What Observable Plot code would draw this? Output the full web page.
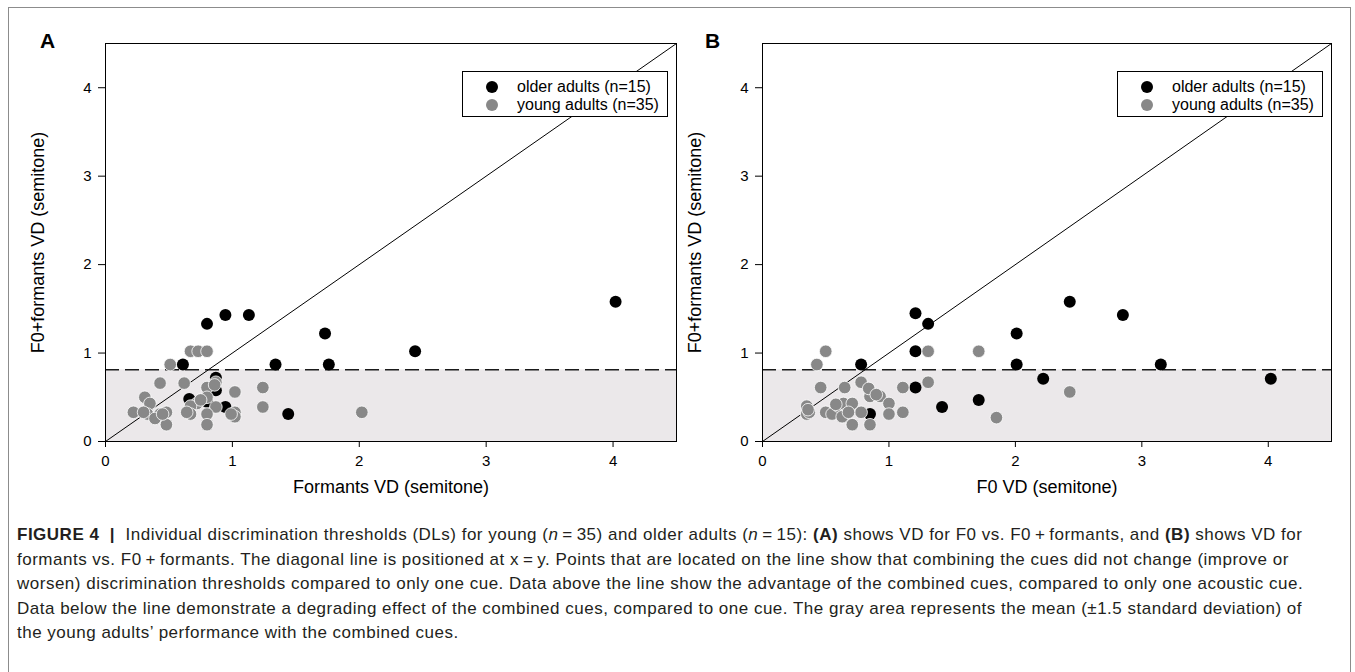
<!DOCTYPE html>
<html><head><meta charset="utf-8">
<script src="https://cdn.jsdelivr.net/npm/d3@7"></script>
<script src="https://cdn.jsdelivr.net/npm/@observablehq/plot@0.6"></script>
<style>
body{margin:0;background:#fff;font-family:"Liberation Sans",Arial,sans-serif;width:1355px;height:672px;overflow:hidden;position:relative;}
#frame{position:absolute;left:8px;top:7px;width:1343px;height:700px;border:1px solid #8c8c8c;box-sizing:border-box;z-index:10;background:transparent;}
.panel{position:absolute;top:0;}
.panel svg{background:transparent !important;}
.letter{position:absolute;font-weight:bold;font-size:21px;line-height:1;}
.legend{position:absolute;width:206px;height:46px;border:1px solid #000;background:#fff;box-sizing:border-box;font-size:16px;z-index:5;}
.legend .row{position:absolute;left:0;height:18px;line-height:18px;white-space:nowrap;}
.legend .sw{position:absolute;left:23px;top:3px;width:12px;height:12px;border-radius:50%;}
.legend .lb{position:absolute;left:54px;top:0;}
#caption{position:absolute;left:17px;top:523px;font-size:17px;letter-spacing:0.5px;line-height:24.5px;color:#231f20;white-space:nowrap;}
</style>
</head><body>
<div id="panelA" class="panel" style="left:0px"></div>
<div id="panelB" class="panel" style="left:657px"></div>
<div class="letter" style="left:40px;top:30px">A</div>
<div class="letter" style="left:705px;top:30px">B</div>
<div id="legA" class="legend" style="left:462px;top:71px"></div>
<div id="legB" class="legend" style="left:1117px;top:71px"></div>
<div id="caption"></div>
<div id="frame"></div>
<script>
// ---- data ----
const axisDomain = [0, 4.5];
const xTicks = [0, 1, 2, 3, 4];
const yTicks = [0, 1, 2, 3, 4];
const threshold = 0.81;
const groupLabels = ["older adults (n=15)", "young adults (n=35)"];
const groupColors = ["#000000", "#888888"];
const xLabelA = "Formants VD (semitone)";
const xLabelB = "F0 VD (semitone)";
const yLabel = "F0+formants VD (semitone)";

// Panel A: Formants VD (x) vs F0+formants VD (y)
const aOlderX = [0.80, 0.945, 1.13, 0.61, 1.34, 0.87, 0.87, 0.66, 0.945, 1.44, 1.73, 1.76, 2.44, 4.02, 0.80];
const aOlderY = [1.33, 1.43, 1.43, 0.87, 0.87, 0.72, 0.58, 0.48, 0.39, 0.31, 1.22, 0.87, 1.02, 1.58, 0.45];
const aYoungX = [0.67, 0.73, 0.80, 0.51, 0.43, 0.62, 0.80, 0.87, 1.02, 1.24, 0.31, 0.35, 0.80, 0.72, 0.67, 0.87, 1.24, 0.22, 0.33, 0.43, 0.48, 0.67, 0.80, 1.02, 1.02, 0.39, 0.48, 0.80, 2.02, 0.86, 0.75, 0.30, 0.45, 0.99, 0.64];
const aYoungY = [1.02, 1.02, 1.02, 0.87, 0.66, 0.66, 0.61, 0.67, 0.56, 0.61, 0.50, 0.43, 0.50, 0.43, 0.40, 0.39, 0.39, 0.33, 0.31, 0.31, 0.33, 0.31, 0.31, 0.33, 0.28, 0.26, 0.19, 0.19, 0.33, 0.64, 0.47, 0.33, 0.31, 0.31, 0.33];

// Panel B: F0 VD (x) vs F0+formants VD (y)
const bOlderX = [1.21, 1.31, 1.21, 0.78, 1.21, 0.85, 1.42, 2.43, 2.85, 2.01, 2.01, 3.15, 2.22, 4.02, 1.71];
const bOlderY = [1.45, 1.33, 1.02, 0.87, 0.61, 0.31, 0.39, 1.58, 1.43, 1.22, 0.87, 0.87, 0.71, 0.71, 0.47];
const bYoungX = [1.31, 0.50, 0.43, 0.46, 0.65, 0.78, 0.85, 0.85, 0.93, 1.11, 1.31, 0.35, 0.35, 0.50, 0.55, 0.60, 0.64, 0.71, 0.65, 0.78, 0.71, 0.85, 1.00, 1.00, 1.11, 1.71, 2.43, 1.85, 0.37, 0.63, 0.84, 0.68, 0.58, 0.90, 0.36];
const bYoungY = [1.02, 1.02, 0.87, 0.61, 0.61, 0.67, 0.56, 0.51, 0.51, 0.61, 0.67, 0.40, 0.31, 0.33, 0.31, 0.40, 0.43, 0.43, 0.30, 0.33, 0.19, 0.19, 0.43, 0.31, 0.33, 1.02, 0.56, 0.27, 0.33, 0.28, 0.60, 0.33, 0.42, 0.53, 0.36];

const captionLines = [
  "<b>FIGURE 4 &nbsp;|</b>&nbsp; Individual discrimination thresholds (DLs) for young (<i>n</i>\u2009=\u200935) and older adults (<i>n</i>\u2009=\u200915): <b>(A)</b> shows VD for F0 vs. F0\u2009+\u2009formants, and <b>(B)</b> shows VD for",
  "formants vs. F0\u2009+\u2009formants. The diagonal line is positioned at x\u2009=\u2009y. Points that are located on the line show that combining the cues did not change (improve or",
  "worsen) discrimination thresholds compared to only one cue. Data above the line show the advantage of the combined cues, compared to only one acoustic cue.",
  "Data below the line demonstrate a degrading effect of the combined cues, compared to one cue. The gray area represents the mean (\u00b11.5 standard deviation) of",
  "the young adults\u2019 performance with the combined cues."
];

// ---- build ----
const zip = (xs, ys) => xs.map((x, i) => ({x, y: ys[i]}));
const band = [{x1: axisDomain[0], x2: axisDomain[1], y1: 0, y2: threshold}];
const diag = axisDomain.map(v => ({x: v, y: v}));

function panel(olderX, olderY, youngX, youngY, xLabel, marginRight) {
  return Plot.plot({
    width: 690, height: 510,
    marginLeft: 105, marginTop: 43, marginRight, marginBottom: 69,
    style: {fontFamily: "'Liberation Sans', Arial, sans-serif", background: "transparent", color: "#000"},
    x: {domain: axisDomain},
    y: {domain: axisDomain},
    marks: [
      Plot.rect(band, {x1: "x1", x2: "x2", y1: "y1", y2: "y2", fill: "#ebe8ea"}),
      Plot.ruleY([threshold], {stroke: "#1a1a1a", strokeWidth: 1.5, strokeDasharray: "14,6"}),
      Plot.line(diag, {x: "x", y: "y", stroke: "#000", strokeWidth: 1}),
      Plot.dot(zip(olderX, olderY), {x: "x", y: "y", r: 6, fill: groupColors[0], stroke: "none"}),
      Plot.dot(zip(youngX, youngY), {x: "x", y: "y", r: 6.3, fill: groupColors[1], stroke: "#fff", strokeWidth: 0.8}),
      Plot.frame({stroke: "#000", strokeWidth: 1}),
      Plot.axisX({ticks: xTicks, tickSize: 6, tickPadding: 8, fontSize: 15, label: null, tickFormat: d => String(d)}),
      Plot.axisY({ticks: yTicks, tickSize: 7, tickPadding: 7, fontSize: 15, label: null, tickFormat: d => String(d)}),
      Plot.text([xLabel], {text: d => d, frameAnchor: "bottom", dy: 51, fontSize: 18}),
      Plot.text([yLabel], {text: d => d, frameAnchor: "left", textAnchor: "middle", rotate: -90, dx: -67, fontSize: 18})
    ]
  });
}

document.getElementById("panelA").appendChild(panel(aOlderX, aOlderY, aYoungX, aYoungY, xLabelA, 14));
document.getElementById("panelB").appendChild(panel(bOlderX, bOlderY, bYoungX, bYoungY, xLabelB, 16));

for (const id of ["legA", "legB"]) {
  const el = document.getElementById(id);
  groupLabels.forEach((lab, i) => {
    const row = document.createElement("div");
    row.className = "row";
    row.style.top = (6 + i * 18) + "px";
    row.innerHTML = `<span class="sw" style="background:${groupColors[i]}"></span><span class="lb">${lab}</span>`;
    el.appendChild(row);
  });
}
document.getElementById("caption").innerHTML = captionLines.join("<br>");
</script>
</body></html>
